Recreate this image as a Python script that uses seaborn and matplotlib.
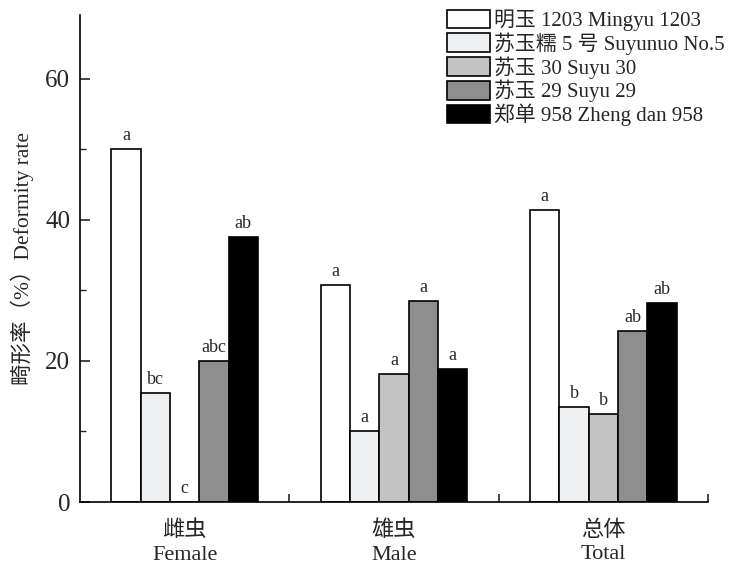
import pandas as pd
import matplotlib.pyplot as plt
import seaborn as sns
from matplotlib.ticker import MultipleLocator

# === 数据 ===
groups = ["雌虫\nFemale", "雄虫\nMale", "总体\nTotal"]
varieties = ["明玉 1203 Mingyu 1203", "苏玉糯 5 号 Suyunuo No.5", "苏玉 30 Suyu 30",
             "苏玉 29 Suyu 29", "郑单 958 Zheng dan 958"]
colors = ["#ffffff", "#eef0f3", "#c3c3c3", "#8e8e8e", "#000000"]

# 每个品种在 雌/雄/总体 的畸形率
rate_mingyu = [50.0, 30.8, 41.4]
rate_suyunuo = [15.4, 10.0, 13.5]
rate_suyu30 = [0.0, 18.2, 12.5]
rate_suyu29 = [20.0, 28.5, 24.2]
rate_zhengdan = [37.5, 18.9, 28.2]

# 显著性字母
sig_mingyu = ["a", "a", "a"]
sig_suyunuo = ["bc", "a", "b"]
sig_suyu30 = ["c", "a", "b"]
sig_suyu29 = ["abc", "a", "ab"]
sig_zhengdan = ["ab", "a", "ab"]

rates = [rate_mingyu, rate_suyunuo, rate_suyu30, rate_suyu29, rate_zhengdan]
sigs = [sig_mingyu, sig_suyunuo, sig_suyu30, sig_suyu29, sig_zhengdan]

rows = []
for v, vals in zip(varieties, rates):
    for g, r in zip(groups, vals):
        rows.append({"group": g, "variety": v, "rate": r})
df = pd.DataFrame(rows)

# === 绘图 ===
sns.set_style("ticks")
plt.rcParams['font.family'] = ['Liberation Serif', 'Noto Sans CJK SC']

fig = plt.figure(figsize=(7.33, 5.64), dpi=100)
ax = fig.add_axes([0.1091, 0.1099, 0.8568, 0.8635])

sns.barplot(data=df, x="group", y="rate", hue="variety", hue_order=varieties,
            palette=colors, edgecolor="black", linewidth=1.2, width=0.7,
            gap=0, errorbar=None, ax=ax, legend=True)

# 显著性字母
for cont, labels in zip(ax.containers, sigs):
    for bar, lab in zip(cont, labels):
        h = bar.get_height()
        ax.text(bar.get_x() + bar.get_width() / 2, h + 0.7, lab,
                ha="center", va="bottom", fontsize=13)

ax.set_xlim(-0.5, 2.5)
ax.set_ylim(0, 69)
ax.set_yticks([0, 20, 40, 60])
ax.yaxis.set_minor_locator(MultipleLocator(10))
ax.tick_params(axis="y", which="major", direction="in", length=7, width=1.2,
               labelsize=18, pad=7)
ax.tick_params(axis="y", which="minor", direction="in", length=4, width=1.0)

# x 轴: 类别标签在中间, 刻度线在分界处
ax.set_xticks([0, 1, 2])
ax.set_xticklabels(groups, fontsize=16, linespacing=1.35)
ax.tick_params(axis="x", which="major", length=0, pad=13)
ax.set_xticks([0.5, 1.5, 2.5], minor=True)
ax.tick_params(axis="x", which="minor", direction="in", length=6, width=1.2)

ax.set_xlabel("")
ax.set_ylabel("畸形率（%）Deformity rate", fontsize=15.5, labelpad=8)

for side in ["top", "right"]:
    ax.spines[side].set_visible(False)
for side in ["left", "bottom"]:
    ax.spines[side].set_linewidth(1.2)
    ax.spines[side].set_color("black")

leg = ax.legend(loc="upper left", bbox_to_anchor=(0.61, 0.983),
                bbox_transform=fig.transFigure, frameon=False, fontsize=15,
                handlelength=2.05, handleheight=1.0, labelspacing=0.06,
                handletextpad=0.2, borderpad=0, borderaxespad=0)

plt.savefig("out.png", dpi=100)
plt.close()
